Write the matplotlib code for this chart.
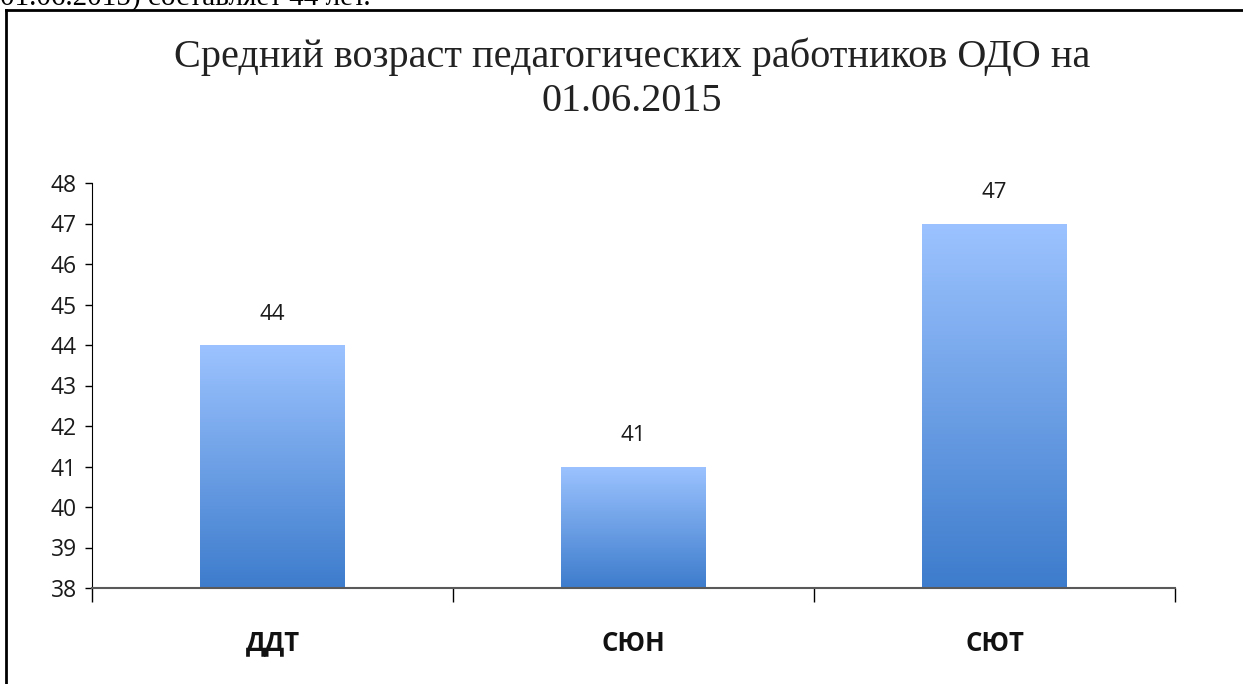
import numpy as np
import matplotlib
matplotlib.use("Agg")
import matplotlib.pyplot as plt
from matplotlib.colors import LinearSegmentedColormap
from matplotlib.patches import Rectangle

categories = ["ДДТ", "СЮН", "СЮТ"]
values = [44, 41, 47]
y_ticks = list(range(38, 49))
title = "Средний возраст педагогических работников ОДО на\n01.06.2015"
doc_text = "01.06.2015) составляет 44 лет."

W, H = 1243, 684
fig = plt.figure(figsize=(W / 100, H / 100), dpi=100)
fig.patch.set_facecolor("white")

# document line above the chart frame, cut by the page edge
fig.text(0.0, 1 - 5 / H, doc_text, family="Liberation Serif", fontsize=21,
         ha="left", va="baseline", color="black")

# chart frame
fig.add_artist(plt.Line2D([6 / W, 6 / W], [0, 1 - 10 / H], color="black",
                          lw=2, transform=fig.transFigure))
fig.add_artist(plt.Line2D([6 / W, 1], [1 - 10 / H, 1 - 10 / H], color="black",
                          lw=2, transform=fig.transFigure))

fig.text(632 / W, 1 - 79 / H, title, family="Liberation Serif", fontsize=29,
         ha="center", va="center", linespacing=1.25, color="#222222")

ax = fig.add_axes([92 / W, 96 / H, (1175 - 92) / W, (588 - 183) / H])
x = np.arange(len(categories))
ymin = 38
bars = ax.bar(x, [v - ymin for v in values], bottom=ymin, width=0.4,
              color="none", edgecolor="none", zorder=2)

cmap = LinearSegmentedColormap.from_list("barfill", ["#3d7ccc", "#9cc3ff"])
grad = np.linspace(0, 1, 256).reshape(-1, 1)
for b in bars:
    x0, y0 = b.get_x(), b.get_y()
    w, h = b.get_width(), b.get_height()
    im = ax.imshow(grad, cmap=cmap, aspect="auto", origin="lower",
                   extent=(x0, x0 + w, y0, y0 + h), zorder=2,
                   interpolation="bilinear")
    clip = Rectangle((x0, y0), w, h, transform=ax.transData)
    im.set_clip_path(clip)

for xi, v in zip(x, values):
    ax.annotate(f"{v}", (xi, v), xytext=(0, 22), textcoords="offset points",
                ha="center", va="center", family="Open Sans", fontsize=16,
                color="#1a1a1a")

ax.set_xlim(-0.5, len(categories) - 0.5)
ax.set_ylim(38, 48)
ax.set_yticks(y_ticks)
ax.set_yticklabels([str(t) for t in y_ticks], family="Open Sans", fontsize=16.5,
                   color="#1a1a1a")
ax.tick_params(axis="y", direction="out", length=5, width=1, color="black",
               pad=6)

ax.set_xticks(np.arange(-0.5, len(categories), 1.0))
ax.set_xticklabels([])
ax.tick_params(axis="x", which="major", direction="out", length=10, width=1,
               color="black")
ax.set_xticks(x, minor=True)
ax.set_xticklabels(categories, minor=True, family="Open Sans", fontsize=18.5,
                   fontweight="bold", color="#111111")
ax.tick_params(axis="x", which="minor", length=0, pad=30)

for s in ["top", "right"]:
    ax.spines[s].set_visible(False)
ax.spines["left"].set_color("black")
ax.spines["bottom"].set_color("#595959")
ax.spines["bottom"].set_linewidth(1.5)
ax.spines["bottom"].set_zorder(3)
ax.set_facecolor("white")

fig.savefig("out.png", dpi=100, facecolor="white")
